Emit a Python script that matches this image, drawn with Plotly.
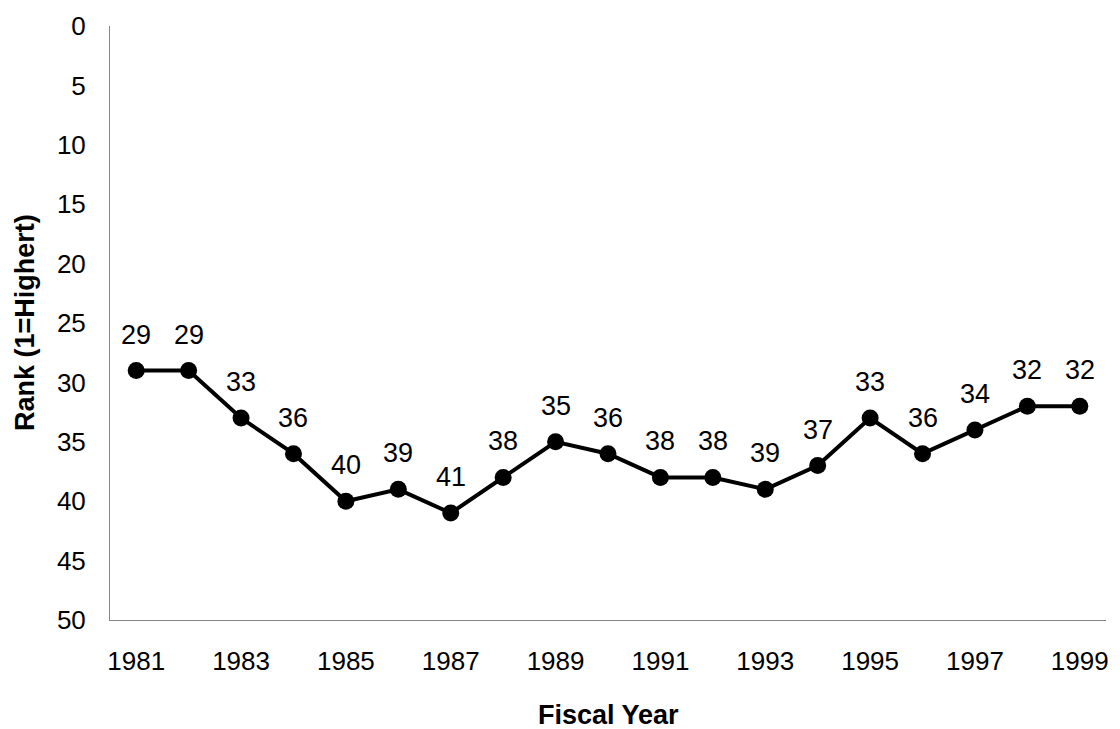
import plotly.graph_objects as go

# Fiscal years and the state's rank in each year (1 = highest)
years = list(range(1981, 2000))
ranks = [29, 29, 33, 36, 40, 39, 41, 38, 35, 36, 38, 38, 39, 37, 33, 36, 34, 32, 32]
year_ticks = list(range(1981, 2000, 2))
rank_ticks = list(range(0, 51, 5))

FONT = "Liberation Sans, Arial, sans-serif"
AXIS_GRAY = "#868686"

fig = go.Figure()
fig.add_trace(go.Scatter(
    x=years, y=ranks,
    mode="lines+markers",
    line=dict(color="black", width=4),
    marker=dict(color="black", size=17),
    hoverinfo="x+y",
    showlegend=False,
))

# value labels above each point
for yr, rk in zip(years, ranks):
    fig.add_annotation(
        x=yr, y=rk, text=str(rk), showarrow=False,
        yshift=36, yanchor="middle", xanchor="center",
        font=dict(family=FONT, size=27, color="black"),
    )

# axis titles
fig.add_annotation(
    x=0.5, y=0, xref="paper", yref="paper", text="<b>Fiscal Year</b>",
    showarrow=False, yshift=-95, yanchor="middle",
    font=dict(family=FONT, size=27, color="black"),
)
fig.add_annotation(
    x=0, y=0.5, xref="paper", yref="paper", text="<b>Rank (1=Highert)</b>",
    showarrow=False, xshift=-85, xanchor="center", yanchor="middle",
    textangle=-90, font=dict(family=FONT, size=27, color="black"),
)

fig.update_layout(
    width=1120, height=729,
    margin=dict(l=110, r=11, t=18, b=109),
    plot_bgcolor="white", paper_bgcolor="white",
    font=dict(family=FONT, size=26, color="black"),
    xaxis=dict(
        range=[1980.5, 1999.5], tickmode="array", tickvals=year_ticks,
        showgrid=False, zeroline=False, showline=True,
        linecolor=AXIS_GRAY, linewidth=1, ticks="",
        ticklabelstandoff=18,
        tickfont=dict(family=FONT, size=26, color="black"),
    ),
    yaxis=dict(
        range=[50, 0], tickmode="array", tickvals=rank_ticks,
        showgrid=False, zeroline=False, showline=True,
        linecolor=AXIS_GRAY, linewidth=1, ticks="",
        ticklabelstandoff=18,
        tickfont=dict(family=FONT, size=26, color="black"),
    ),
)

fig.write_html("out.html")
